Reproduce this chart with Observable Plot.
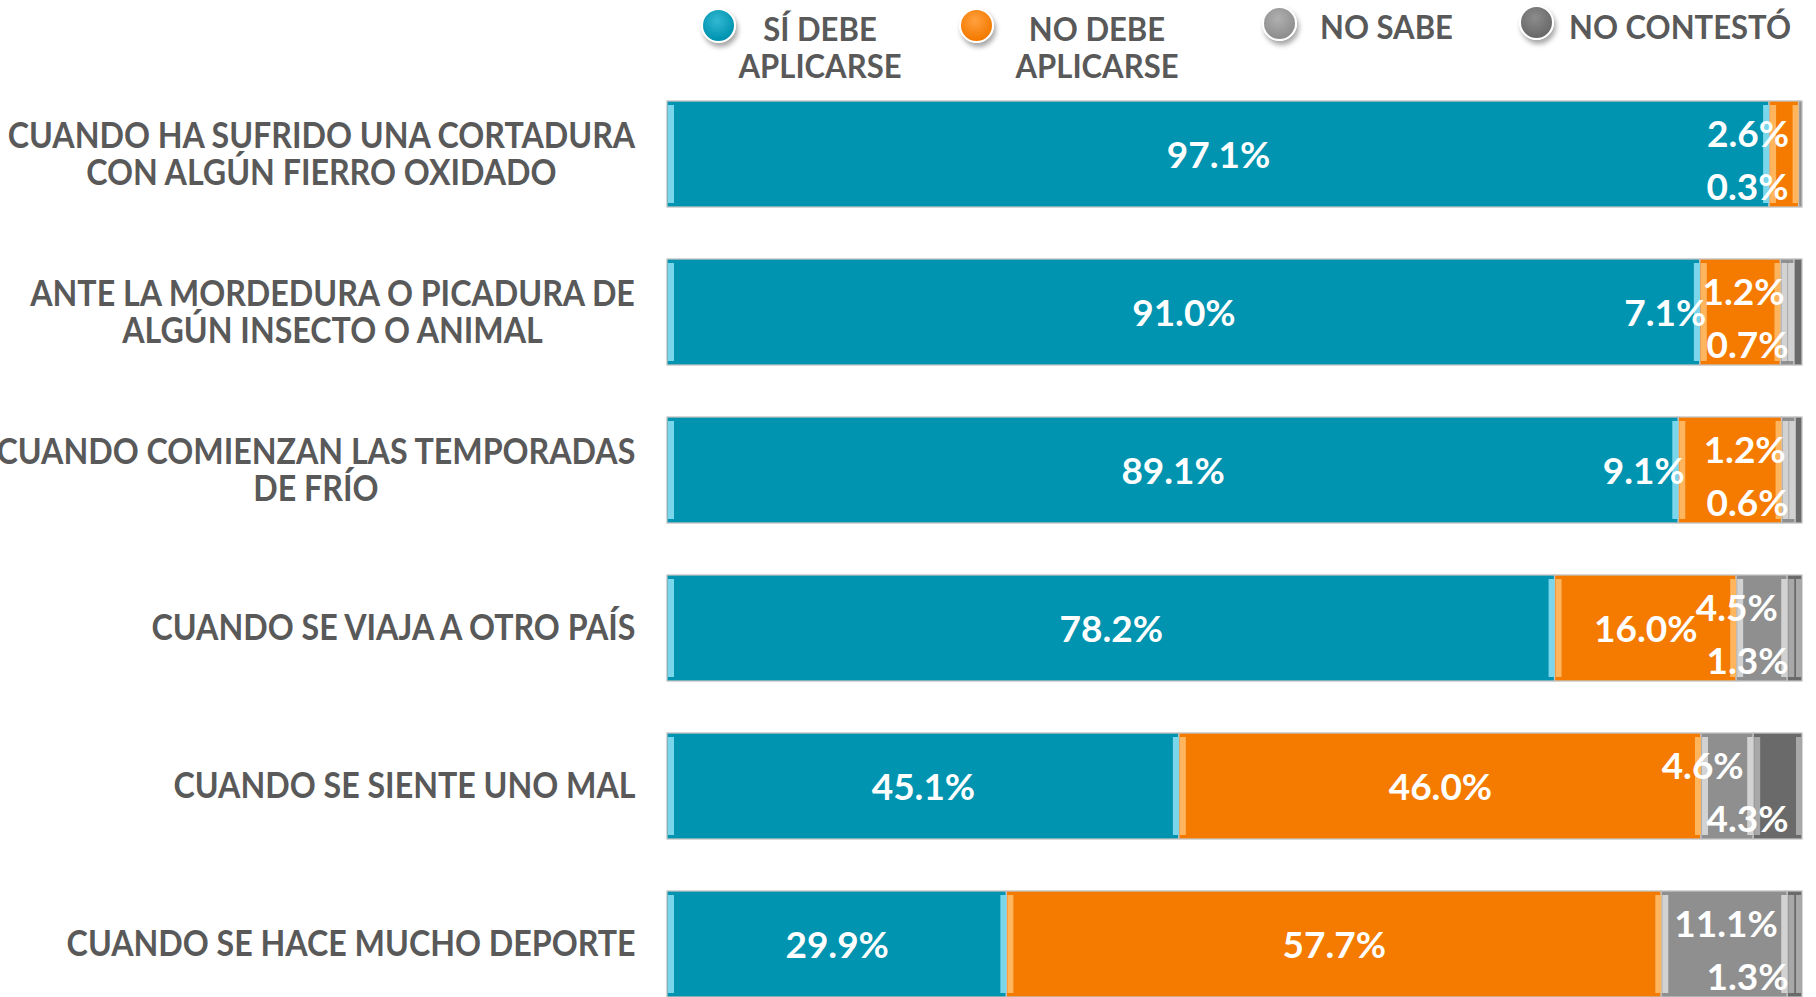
<!DOCTYPE html>
<html><head><meta charset="utf-8">
<script src="https://cdn.jsdelivr.net/npm/d3@7"></script>
<script src="https://cdn.jsdelivr.net/npm/@observablehq/plot@0.6"></script>
<style>
html,body{margin:0;padding:0;background:#fff;overflow:hidden;width:1816px;height:997px}
#legend{position:relative;height:90px;width:1816px;font-family:Lato,sans-serif;font-weight:700;font-size:32px;color:#595959}
.dot{position:absolute;width:35px;height:35px;border-radius:50%;border:2px solid #fff;box-shadow:2px 4px 5px rgba(0,0,0,0.35);box-sizing:border-box}
.lab{position:absolute;line-height:37px;text-align:center;white-space:nowrap}
#chart svg{display:block}
</style></head>
<body>
<div id="legend"></div>
<div id="chart"></div>
<script>
const categories = [
  "CUANDO HA SUFRIDO UNA CORTADURA\nCON ALGÚN FIERRO OXIDADO",
  "ANTE LA MORDEDURA O PICADURA DE\nALGÚN INSECTO O ANIMAL",
  "CUANDO COMIENZAN LAS TEMPORADAS\nDE FRÍO",
  "CUANDO SE VIAJA A OTRO PAÍS",
  "CUANDO SE SIENTE UNO MAL",
  "CUANDO SE HACE MUCHO DEPORTE"
];
const responses = ["SÍ DEBE\nAPLICARSE", "NO DEBE\nAPLICARSE", "NO SABE", "NO CONTESTÓ"];
const siDebe     = [97.1, 91.0, 89.1, 78.2, 45.1, 29.9];
const noDebe     = [2.6, 7.1, 9.1, 16.0, 46.0, 57.7];
const noSabe     = [0.3, 1.2, 1.2, 4.5, 4.6, 11.1];
const noContesto = [0, 0.7, 0.6, 1.3, 4.3, 1.3];

const colors = ["#0094B0", "#F47B00", "#8F8F8F", "#6A6A6A"];
const lights = ["#7AD6EA", "#FFB45E", "#D2D2D2", "#A8A8A8"];
const gradTop = ["#33B8D2", "#FFA040", "#B0B0B0", "#8C8C8C"];
const labelGrey = "#595959";

// Legend (HTML, above the SVG)
const legend = document.getElementById("legend");
const legendLayout = [
  {dot: [701, 8], text: [820, 10], center: true},
  {dot: [959, 8], text: [1097, 10], center: true},
  {dot: [1262, 6], text: [1320, 8], center: false},
  {dot: [1519, 5], text: [1569, 8], center: false}
];
responses.forEach((r, i) => {
  const L = legendLayout[i];
  const dot = document.createElement("div");
  dot.className = "dot";
  dot.style.left = L.dot[0] + "px"; dot.style.top = L.dot[1] + "px";
  dot.style.background = `radial-gradient(circle at 45% 35%, ${gradTop[i]}, ${colors[i]} 70%)`;
  legend.appendChild(dot);
  const t = document.createElement("div");
  t.className = "lab";
  t.style.left = L.text[0] + "px"; t.style.top = L.text[1] + "px";
  t.style.transform = (L.center ? "translateX(-50%) " : "") + "scaleX(0.97)";
  t.style.transformOrigin = L.center ? "50% 50%" : "0 50%";
  t.innerHTML = r.split("\n").join("<br>");
  legend.appendChild(t);
});

// Segments
const series = [siDebe, noDebe, noSabe, noContesto];
const segs = [];
categories.forEach((c, i) => {
  let acc = 0;
  series.forEach((s, j) => {
    const v = s[i];
    segs.push({cat: c, resp: responses[j], j, value: v, x1: acc, x2: acc + v, row: i});
    acc += v;
  });
});
const visible = segs.filter(d => d.value > 0);
const rowEnd = categories.map((c, i) => d3.max(visible.filter(d => d.row === i), d => d.x2));

const labels = [];
categories.forEach((c, i) => {
  const rs = visible.filter(d => d.row === i);
  const small = rs.filter(d => d.value < 15);
  rs.filter(d => d.value >= 15).forEach(d => labels.push({...d, slot: "center"}));
  small.forEach((d, k) => {
    const slot = small.length === 3 ? ["middle", "top", "bottom"][k] : ["top", "bottom"][k];
    labels.push({...d, slot, end: rowEnd[i]});
  });
});
const fmt = d => d.value.toFixed(1) + "%";
const labelStyle = {fill: "white", fontSize: 37, fontWeight: "bold", fontFamily: "Lato", text: fmt, y: "cat"};

const bevels = [];
responses.forEach((r, j) => {
  const data = visible.filter(d => d.j === j && d.value >= 1);
  bevels.push(Plot.tickX(data, {x: "x1", y: "cat", stroke: lights[j], strokeWidth: 6, dx: 3.5, insetTop: 4, insetBottom: 4}));
  bevels.push(Plot.tickX(data, {x: "x2", y: "cat", stroke: lights[j], strokeWidth: 6, dx: -3.5, insetTop: 4, insetBottom: 4}));
});

const chart = Plot.plot({
  width: 1816,
  height: 908,
  marginLeft: 667,
  marginRight: 14,
  marginTop: 9,
  marginBottom: 0,
  style: {fontFamily: "Lato, sans-serif", background: "transparent", overflow: "visible"},
  x: {domain: [0, 100], axis: null},
  y: {domain: categories, axis: null, paddingInner: 0.332, paddingOuter: 0},
  color: {domain: responses, range: colors},
  marks: [
    Plot.barX(visible, {x1: "x1", x2: "x2", y: "cat", fill: "resp", stroke: "#C2C2C2", strokeWidth: 1.3}),
    ...bevels,
    Plot.text(labels.filter(d => d.slot === "center"), {...labelStyle, x: d => (d.x1 + d.x2) / 2, textAnchor: "middle", dy: 2}),
    Plot.text(labels.filter(d => d.slot === "middle"), {...labelStyle, x: "x1", textAnchor: "end", dx: 6, dy: 2}),
    Plot.text(labels.filter(d => d.slot === "top"), {...labelStyle, x: "x2", textAnchor: "end", dx: -10, dy: -19}),
    Plot.text(labels.filter(d => d.slot === "bottom"), {...labelStyle, x: "end", textAnchor: "end", dx: -14, dy: 34}),
    Plot.text(categories, {y: d => d, text: d => d, frameAnchor: "left", dx: -32, textAnchor: "end",
      fontSize: 37, fontWeight: "bold", fontFamily: "Lato", fill: labelGrey, lineHeight: 1.0})
  ]
});
document.getElementById("chart").appendChild(chart);

// horizontally condense category labels, center multi-line blocks
const k = 0.87;
chart.querySelectorAll("text").forEach(t => {
  const g = t.parentNode;
  const fill = (t.getAttribute("fill") || (g && g.getAttribute("fill")) || "").toLowerCase();
  if (fill !== labelGrey.toLowerCase()) return;
  const t0 = t.getAttribute("transform") || "";
  const n = t.querySelectorAll("tspan").length;
  if (n > 1) {
    const w = t.getBBox().width;
    t.setAttribute("text-anchor", "middle");
    t.setAttribute("transform", t0 + ` translate(${-w * k / 2},0) scale(${k},1)`);
  } else {
    t.setAttribute("transform", t0 + ` scale(${k},1)`);
  }
});
</script>
</body></html>
